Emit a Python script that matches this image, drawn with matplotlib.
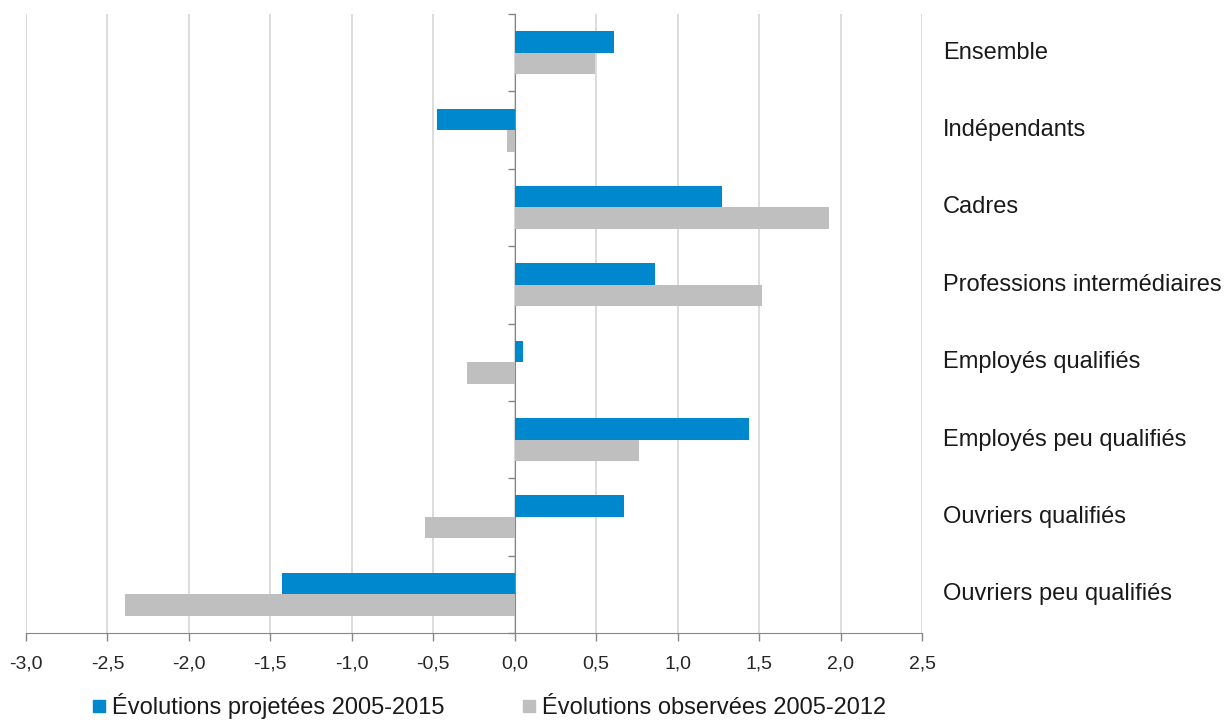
import matplotlib.pyplot as plt
from matplotlib.lines import Line2D
from matplotlib.transforms import blended_transform_factory
import numpy as np

plt.rcParams['font.family'] = ['Liberation Sans', 'DejaVu Sans']

categories = ['Ensemble', 'Indépendants', 'Cadres', 'Professions intermédiaires',
              'Employés qualifiés', 'Employés peu qualifiés', 'Ouvriers qualifiés',
              'Ouvriers peu qualifiés']
projetees = [0.61, -0.48, 1.27, 0.86, 0.05, 1.44, 0.67, -1.43]
observees = [0.49, -0.05, 1.93, 1.52, -0.29, 0.76, -0.55, -2.39]
xticks = [-3.0, -2.5, -2.0, -1.5, -1.0, -0.5, 0.0, 0.5, 1.0, 1.5, 2.0, 2.5]
xticklabels = ['-3,0', '-2,5', '-2,0', '-1,5', '-1,0', '-0,5', '0,0', '0,5', '1,0', '1,5', '2,0', '2,5']
legend_labels = ['Évolutions projetées 2005-2015', 'Évolutions observées 2005-2012']

blue = '#0088CE'
grey = '#BFBFBF'
axis_col = '#868686'

fig = plt.figure(figsize=(12.31, 7.2), dpi=100)
ax = fig.add_axes([26/1231, 1 - 633/720, (922-26)/1231, (633-14)/720])

y = np.arange(len(categories))
h = 0.278
ax.barh(y - h/2, projetees, height=h, color=blue, zorder=3)
ax.barh(y + h/2, observees, height=h, color=grey, zorder=3)

ax.set_xlim(-3, 2.5)
ax.set_ylim(len(categories) - 0.5, -0.5)

ax.set_xticks(xticks)
ax.set_xticklabels(xticklabels, fontsize=14, color='#262626')
ax.xaxis.grid(True, color='#D9D9D9', linewidth=1.3, zorder=0)
ax.set_axisbelow(True)

ax.set_yticks(np.arange(-0.5, len(categories), 1.0))
ax.set_yticklabels([])
ax.tick_params(axis='y', direction='out', length=5, color=axis_col, width=1)
ax.tick_params(axis='x', direction='out', length=6, color=axis_col, width=1, pad=10)

ax.spines['left'].set_position(('data', 0))
ax.spines['left'].set_color(axis_col)
ax.spines['bottom'].set_color(axis_col)
ax.spines['top'].set_visible(False)
ax.spines['right'].set_visible(False)

trans = blended_transform_factory(ax.transAxes, ax.transData)
for i, c in enumerate(categories):
    ax.text((943-26)/(922-26), i, c, transform=trans, ha='left', va='center',
            fontsize=17, color='#1a1a1a')

handles = [Line2D([], [], marker='s', linestyle='', color=blue, markersize=9),
           Line2D([], [], marker='s', linestyle='', color=grey, markersize=9)]
fig.legend(handles, legend_labels, loc='center', bbox_to_anchor=(489/1231, 1 - 706/720),
           ncol=2, frameon=False, fontsize=17, handlelength=0.6, handletextpad=0.25,
           columnspacing=3.3, labelcolor='#1a1a1a')

plt.savefig('out.png', dpi=100)
